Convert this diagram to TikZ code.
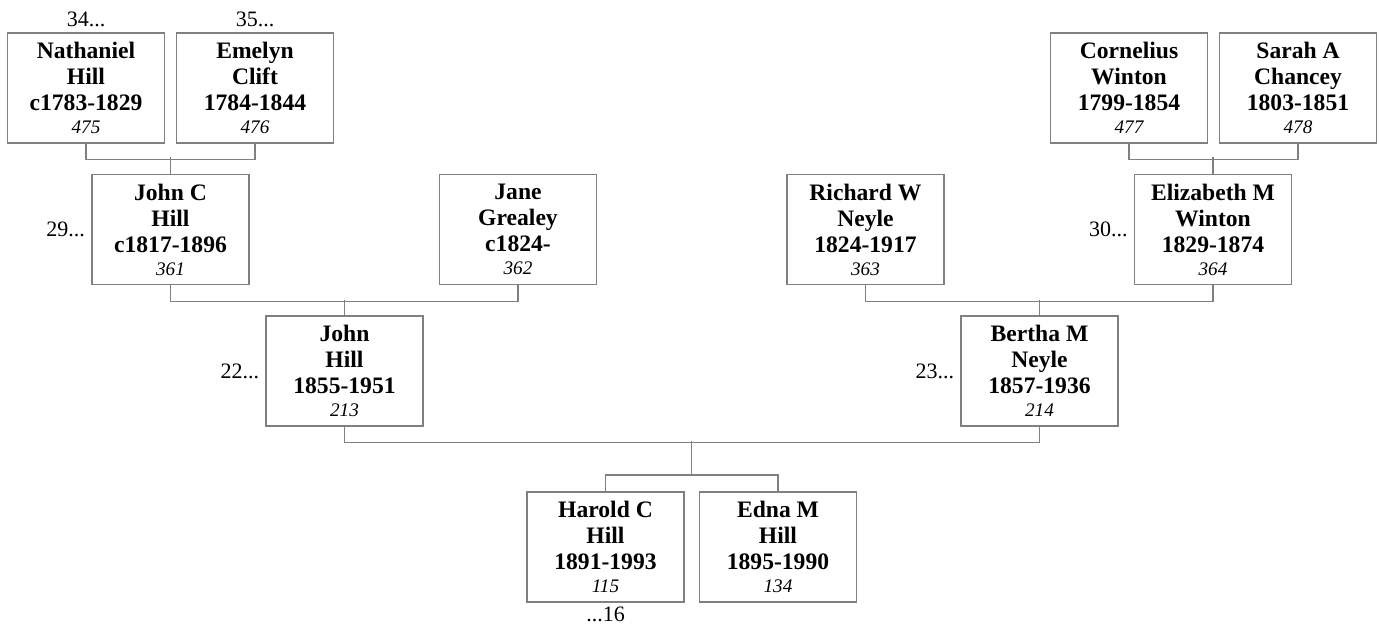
\documentclass[tikz,border=0pt]{standalone}
\usepackage{fontspec}
\setmainfont{Liberation Serif}
\usetikzlibrary{positioning,calc}
\definecolor{linkgray}{RGB}{128,128,128}
\tikzset{
  person/.style={draw=linkgray, line width=0.6pt, minimum width=78.5pt, minimum height=55pt,
    inner sep=0pt, align=center, font=\fontsize{11.8}{13}\selectfont\bfseries},
  link/.style={draw=linkgray, line width=0.6pt},
  tag/.style={inner sep=1pt, font=\fontsize{11}{12}\selectfont},
}
\newcommand{\refno}[1]{\\[-1.5pt]{\mdseries\itshape\fontsize{9.6}{11}\selectfont #1}}
\begin{document}
\begin{tikzpicture}[x=0.5pt,y=-0.5pt]
  \useasboundingbox (0,0) rectangle (1382,628);
  % great-grandparents
  \node[person] (nathaniel) at (86,88) {Nathaniel\\Hill\\c1783-1829\refno{475}};
  \node[person] (emelyn) at (255,88) {Emelyn\\Clift\\1784-1844\refno{476}};
  \node[person] (cornelius) at (1129,88) {Cornelius\\Winton\\1799-1854\refno{477}};
  \node[person] (sarah) at (1298,88) {Sarah A\\Chancey\\1803-1851\refno{478}};
  % grandparents
  \node[person] (johnc) at (170.5,229.5) {John C\\Hill\\c1817-1896\refno{361}};
  \node[person] (jane) at (518,229.5) {Jane\\Grealey\\c1824-\refno{362}};
  \node[person] (richard) at (865.5,229.5) {Richard W\\Neyle\\1824-1917\refno{363}};
  \node[person] (elizabeth) at (1213,229.5) {Elizabeth M\\Winton\\1829-1874\refno{364}};
  % parents
  \node[person] (john) at (344.5,371) {John\\Hill\\1855-1951\refno{213}};
  \node[person] (bertha) at (1039.5,371) {Bertha M\\Neyle\\1857-1936\refno{214}};
  % children
  \node[person] (harold) at (605.5,547) {Harold C\\Hill\\1891-1993\refno{115}};
  \node[person] (edna) at (778,547) {Edna M\\Hill\\1895-1990\refno{134}};
  % continuation tags
  \node[tag, above=1.5pt of nathaniel] {34...};
  \node[tag, above=1.5pt of emelyn] {35...};
  \node[tag, left=2pt of johnc] {29...};
  \node[tag, left=2pt of elizabeth] {30...};
  \node[tag, left=2pt of john] {22...};
  \node[tag, left=2pt of bertha] {23...};
  \node[tag, below=1pt of harold] {...16};
  % family lines
  \draw[link] (nathaniel.south) -- ++(0,15.5) -| (emelyn.south);
  \draw[link] (johnc.north) -- ++(0,-16.5);
  \draw[link] (cornelius.south) -- ++(0,15.5) -| (sarah.south);
  \draw[link] (elizabeth.north) -- ++(0,-16.5);
  \draw[link] (johnc.south) -- ++(0,16.5) -| (jane.south);
  \draw[link] (john.north) -- ++(0,-15.5);
  \draw[link] (richard.south) -- ++(0,16.5) -| (elizabeth.south);
  \draw[link] (bertha.north) -- ++(0,-15.5);
  \draw[link] (john.south) -- ++(0,15.5) -| (bertha.south);
  \draw[link] (harold.north) -- ++(0,-16.5) -| (edna.north);
  \draw[link] ($(harold.north)!0.5!(edna.north)$) ++(0,-16.5) -- ++(0,-34);
\end{tikzpicture}
\end{document}
